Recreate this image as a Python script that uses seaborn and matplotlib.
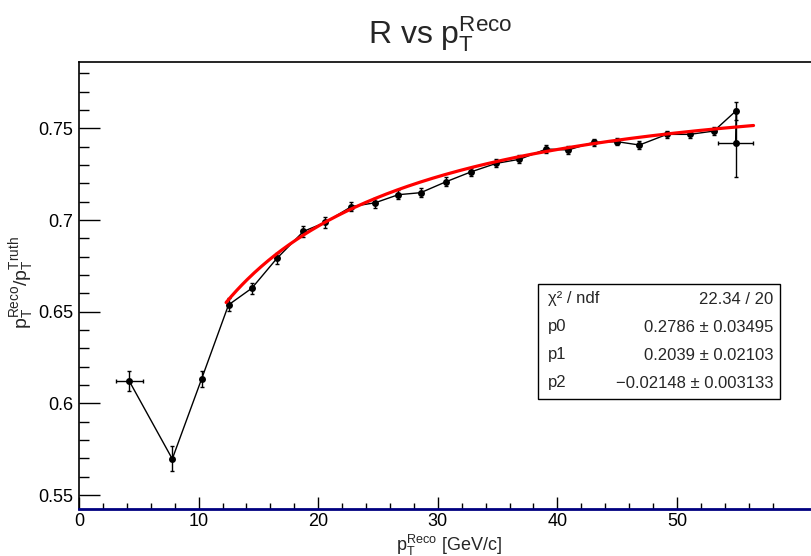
import numpy as np
import pandas as pd
import matplotlib
matplotlib.use("Agg")
import matplotlib.pyplot as plt
from matplotlib.ticker import MultipleLocator, FixedLocator
from matplotlib.patches import Rectangle
import seaborn as sns

# ---- data ----
pt = [4.2, 7.8, 10.25, 12.5, 14.45, 16.55, 18.77, 20.6, 22.77, 24.76, 26.7, 28.57,
      30.7, 32.8, 34.9, 36.83, 39.08, 40.9, 43.05, 45.0, 46.86, 49.16, 51.07, 53.08,
      54.95, 54.9]
ratio = [0.6122, 0.5697, 0.6133, 0.6537, 0.6628, 0.6791, 0.6938, 0.6987, 0.7073,
         0.7094, 0.7138, 0.7149, 0.7209, 0.7263, 0.7309, 0.7331, 0.7387, 0.7382,
         0.7424, 0.7427, 0.7409, 0.7467, 0.7467, 0.7485, 0.7596, 0.7420]
ratio_err = [0.0054, 0.0068, 0.0044, 0.0035, 0.0030, 0.0030, 0.0030, 0.0028, 0.0026,
             0.0026, 0.0024, 0.0024, 0.0024, 0.0022, 0.0022, 0.0022, 0.0020, 0.0020,
             0.0020, 0.0020, 0.0020, 0.0020, 0.0020, 0.0020, 0.0050, 0.0187]
pt_err = [1.13, 0, 0, 0, 0, 0, 0, 0, 0, 0, 0, 0, 0, 0, 0, 0, 0, 0, 0, 0, 0, 0, 0, 0,
          0, 1.44]
x_major_ticks = [0, 10, 20, 30, 40, 50]

# fit: p0 + p1*ln(x) + p2*ln(x)^2
fit_params = [0.2786, 0.2039, -0.02148]
fit_errors = [0.03495, 0.02103, 0.003133]
fit_range = [12.3, 56.4]
chi2_text = "22.34 / 20"
stat_labels = ["χ² / ndf", "p0", "p1", "p2"]
stat_values = [chi2_text, "0.2786 ± 0.03495", "0.2039 ± 0.02103",
               "\u22120.02148 ± 0.003133"]

# ---- style ----
sns.set_theme(style="white")
plt.rcParams["font.family"] = ["Liberation Sans", "DejaVu Sans"]
plt.rcParams["mathtext.fontset"] = "custom"
plt.rcParams["mathtext.rm"] = "Liberation Sans"
plt.rcParams["mathtext.it"] = "Liberation Sans:italic"
plt.rcParams["mathtext.bf"] = "Liberation Sans:bold"

W, H = 811, 556
fig = plt.figure(figsize=(W / 100, H / 100), dpi=100)
fig.patch.set_facecolor("white")
L, R, T, B = 79, 814, 62.3, 509
ax = fig.add_axes([L / W, 1 - B / H, (R - L) / W, (B - T) / H])
ax.set_facecolor("white")

px_per_x = 11.96
ax.set_xlim(0, (R - L) / px_per_x)
ax.set_ylim(0.5424, 0.786)

df = pd.DataFrame({"pt": pt, "R": ratio})
sns.lineplot(data=df, x="pt", y="R", estimator=None, sort=False, color="black",
             lw=1.0, marker="o", markersize=5, markeredgecolor="black",
             markeredgewidth=0, ax=ax, zorder=3)
ax.errorbar(pt, ratio, xerr=pt_err, yerr=ratio_err, fmt="none", ecolor="black",
            elinewidth=1.0, capsize=1.6, capthick=1.0, zorder=3)

xf = np.linspace(fit_range[0], fit_range[1], 300)
lx = np.log(xf)
yf = fit_params[0] + fit_params[1] * lx + fit_params[2] * lx ** 2
sns.lineplot(x=xf, y=yf, color="#ff0000", lw=2.3, ax=ax, zorder=4)

ax.set_xlabel("")
ax.set_ylabel("")

# ticks
ax.xaxis.set_major_locator(FixedLocator(x_major_ticks))
ax.xaxis.set_minor_locator(FixedLocator(list(range(2, 60, 2))))
ax.yaxis.set_major_locator(MultipleLocator(0.05))
ax.yaxis.set_minor_locator(MultipleLocator(0.01))
ax.yaxis.set_major_formatter(matplotlib.ticker.FuncFormatter(
    lambda v, p: f"{v:.2f}".rstrip("0")))
ax.tick_params(which="both", direction="in", top=False, right=False,
               bottom=True, left=True, colors="black", labelsize=13, width=1.0)
ax.tick_params(axis="x", which="major", length=8.6, pad=3)
ax.tick_params(axis="x", which="minor", length=4.3)
ax.tick_params(axis="y", which="major", length=15, pad=4)
ax.tick_params(axis="y", which="minor", length=7.5)

for s in ["top", "left"]:
    ax.spines[s].set_color("black")
    ax.spines[s].set_linewidth(1.2)
ax.spines["right"].set_visible(False)
ax.spines["bottom"].set_color("#000080")
ax.spines["bottom"].set_linewidth(2.0)

# titles
fig.text(440 / W, 1 - 34 / H, r"R vs $\mathrm{p}_{\mathrm{T}}^{\mathrm{Reco}}$",
         ha="center", va="center", fontsize=23)
fig.text(449 / W, 1 - 545 / H, r"$\mathrm{p}_{\mathrm{T}}^{\mathrm{Reco}}$ [GeV/c]",
         ha="center", va="center", fontsize=13)
fig.text(22 / W, 1 - 283 / H,
         r"$\mathrm{p}_{\mathrm{T}}^{\mathrm{Reco}}/\mathrm{p}_{\mathrm{T}}^{\mathrm{Truth}}$",
         ha="center", va="center", rotation=90, fontsize=14)

# stats box
bx0, bx1, by0, by1 = 538, 780, 284, 399
fig.patches.append(Rectangle((bx0 / W, 1 - by1 / H), (bx1 - bx0) / W, (by1 - by0) / H,
                             transform=fig.transFigure, facecolor="white",
                             edgecolor="black", lw=1.0, zorder=5))
rows_y = [299, 327, 355, 383]
for lab, val, yy in zip(stat_labels, stat_values, rows_y):
    fig.text(548 / W, 1 - yy / H, lab, ha="left", va="center", fontsize=12, zorder=6)
    fig.text(773 / W, 1 - yy / H, val, ha="right", va="center", fontsize=12, zorder=6)

fig.savefig("out.png", dpi=100, facecolor="white")
